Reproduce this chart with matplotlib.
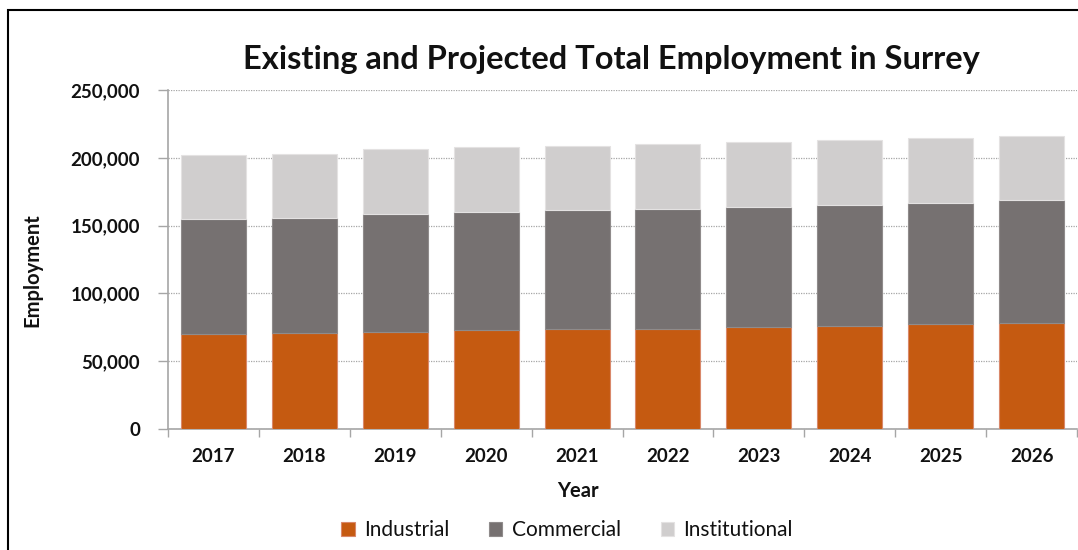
import matplotlib
matplotlib.use("Agg")
import matplotlib.pyplot as plt
from matplotlib.patches import Rectangle
from matplotlib.ticker import FuncFormatter, MultipleLocator
import numpy as np

years = ["2017", "2018", "2019", "2020", "2021", "2022", "2023", "2024", "2025", "2026"]
industrial = [69800, 70600, 71300, 72800, 73500, 74000, 75000, 76000, 77200, 78200]
commercial_top = [155100, 155600, 158600, 160000, 161300, 162300, 163700, 165200, 166900, 168600]
total = [202100, 203000, 206300, 207700, 208700, 210000, 211400, 212900, 214600, 216300]

commercial = [c - i for c, i in zip(commercial_top, industrial)]
institutional = [t - c for t, c in zip(total, commercial_top)]

series_names = ["Industrial", "Commercial", "Institutional"]
colors = ["#C55A11", "#767171", "#D0CECE"]
edges = ["#D9886A", "#8F8B8B", "#E4E2E2"]

plt.rcParams["font.family"] = ["Lato", "DejaVu Sans"]

fig = plt.figure(figsize=(10.78, 5.5), dpi=100)
W, H = 1078, 550
ax = fig.add_axes([168 / W, 1 - 429 / H, (1077 - 168) / W, (429 - 90) / H])

x = np.arange(len(years))
bottom = np.zeros(len(years))
for name, vals, col, ec in zip(series_names, [industrial, commercial, institutional], colors, edges):
    ax.bar(x, vals, width=0.715, bottom=bottom, color=col, edgecolor=ec,
           linewidth=0.8, label=name, zorder=3)
    bottom += np.array(vals)

ax.set_xlim(-0.5, len(years) - 0.5)
ax.set_ylim(0, 250000)
ax.yaxis.set_major_locator(MultipleLocator(50000))
ax.yaxis.set_major_formatter(FuncFormatter(lambda v, p: f"{int(v):,}"))
ax.grid(axis="y", color="#A6A6A6", linestyle=(0, (1, 1)), linewidth=0.9, zorder=0)

ax.set_xticks(x)
ax.set_xticklabels(years)
ax.set_xticks(np.arange(-0.5, len(years) + 0.5, 1), minor=True)
ax.tick_params(axis="x", which="major", length=0, pad=14)
ax.tick_params(axis="x", which="minor", length=6, color="#A6A6A6", width=1)
ax.tick_params(axis="y", length=7, color="#A6A6A6", width=1, pad=13)
for lbl in ax.get_xticklabels() + ax.get_yticklabels():
    lbl.set_fontweight("bold")
    lbl.set_fontsize(13.5)
    lbl.set_color("#111111")

for s in ["top", "right"]:
    ax.spines[s].set_visible(False)
for s in ["left", "bottom"]:
    ax.spines[s].set_color("#A6A6A6")
    ax.spines[s].set_linewidth(1.2)

fig.text(32 / W, 1 - 270 / H, "Employment", rotation=90, ha="center", va="center",
         fontsize=14.5, fontweight="bold", color="#111111")
fig.text(578 / W, 1 - 491 / H, "Year", ha="center", va="center",
         fontsize=14.5, fontweight="bold", color="#111111")
fig.text(611 / W, 1 - 59 / H, "Existing and Projected Total Employment in Surrey",
         ha="center", va="center", fontsize=23.5, fontweight="bold", color="#111111")

leg = fig.legend(loc="center", bbox_to_anchor=(567 / W, 1 - 530 / H), ncol=3, frameon=False,
                 fontsize=15, handlelength=0.65, handleheight=0.65, columnspacing=1.9,
                 handletextpad=0.45)
for t in leg.get_texts():
    t.set_color("#111111")

# outer frame
fig.patches.append(Rectangle((8 / W, -0.05), 1.1, 1 - 10 / H + 0.05, transform=fig.transFigure,
                             fill=False, edgecolor="black", linewidth=1.5))

fig.savefig("out.png", dpi=100)
